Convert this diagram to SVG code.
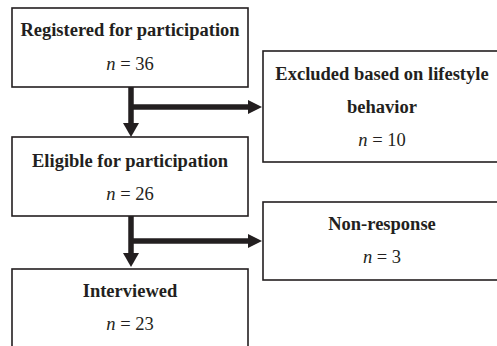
<svg xmlns="http://www.w3.org/2000/svg" width="497" height="346" viewBox="0 0 497 346">
<style>
.box{fill:#fff;stroke:#231f20;stroke-width:1.6}
.t{font-family:"Liberation Serif",serif;font-size:18.5px;font-weight:bold;fill:#231f20;text-anchor:middle}
.n{font-family:"Liberation Serif",serif;font-size:18.5px;fill:#231f20;text-anchor:middle}
.sh{stroke:#231f20;stroke-width:5.5;fill:none}
.hd{fill:#231f20}
</style>
<rect width="497" height="346" fill="#fff"/>
<g id="registered">
<rect class="box" x="12" y="8" width="236" height="79"/>
<text class="t" x="130" y="36">Registered for participation</text>
<text class="n" x="130" y="70"><tspan font-style="italic">n</tspan> = 36</text>
</g>
<g id="excluded">
<rect class="box" x="263" y="51" width="240" height="111"/>
<text class="t" x="382" y="80">Excluded based on lifestyle</text>
<text class="t" x="382" y="113">behavior</text>
<text class="n" x="382" y="146"><tspan font-style="italic">n</tspan> = 10</text>
</g>
<g id="eligible">
<rect class="box" x="12" y="137" width="236" height="79"/>
<text class="t" x="130" y="167">Eligible for participation</text>
<text class="n" x="130" y="200"><tspan font-style="italic">n</tspan> = 26</text>
</g>
<g id="nonresponse">
<rect class="box" x="263" y="202" width="240" height="78"/>
<text class="t" x="382" y="230">Non-response</text>
<text class="n" x="382" y="263"><tspan font-style="italic">n</tspan> = 3</text>
</g>
<g id="interviewed">
<rect class="box" x="12" y="269" width="236" height="90"/>
<text class="t" x="130" y="297">Interviewed</text>
<text class="n" x="130" y="330"><tspan font-style="italic">n</tspan> = 23</text>
</g>
<g id="connectors">
<line class="sh" x1="131" y1="87" x2="131" y2="124"/>
<polygon class="hd" points="123,123 139,123 131,137"/>
<line class="sh" x1="131" y1="107" x2="249" y2="107"/>
<polygon class="hd" points="248,100 248,114 262,107"/>
<line class="sh" x1="131" y1="216" x2="131" y2="254"/>
<polygon class="hd" points="123,253 139,253 131,267"/>
<line class="sh" x1="131" y1="241" x2="249" y2="241"/>
<polygon class="hd" points="248,234 248,248 262,241"/>
</g>
</svg>
